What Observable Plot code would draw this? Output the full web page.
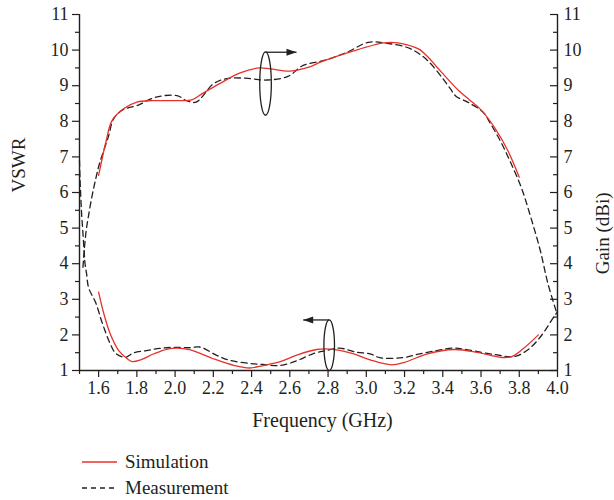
<!DOCTYPE html>
<html>
<head>
<meta charset="utf-8">
<script src="https://cdn.jsdelivr.net/npm/d3@7"></script>
<script src="https://cdn.jsdelivr.net/npm/@observablehq/plot@0.6"></script>
<style>
  html, body { margin: 0; padding: 0; background: #fff; }
  #wrap { position: relative; width: 614px; height: 500px; font-family: "Liberation Serif", "Times New Roman", Times, "DejaVu Serif", "Noto Serif", serif; color: #231f20; }
  .leg { position: absolute; left: 0; display: flex; align-items: center; font-size: 19px; }
  .leg svg { display: block; }
</style>
</head>
<body>
<div id="wrap"></div>
<script>
// ---- Data ----
const simGainFreq = [1.60,1.64,1.67,1.73,1.80,1.88,1.95,2.02,2.09,2.14,2.23,2.34,2.44,2.50,2.60,2.70,2.76,2.93,3.09,3.15,3.18,3.27,3.32,3.37,3.48,3.54,3.60,3.67,3.74,3.80];
const simGain     = [6.48,7.46,8.02,8.35,8.54,8.58,8.58,8.58,8.61,8.77,9.05,9.36,9.50,9.47,9.41,9.52,9.66,9.97,10.20,10.21,10.19,10.04,9.82,9.52,8.88,8.60,8.32,7.83,7.18,6.43];

const measGainFreq = [1.518,1.522,1.526,1.535,1.546,1.563,1.581,1.604,1.65,1.68,1.73,1.80,1.90,2.01,2.06,2.11,2.20,2.27,2.37,2.48,2.59,2.67,2.78,2.90,3.01,3.11,3.23,3.32,3.40,3.44,3.47,3.53,3.61,3.65,3.70,3.75,3.81,3.86,3.91,3.95,4.00];
const measGain     = [3.90,4.18,4.46,4.93,5.31,5.83,6.29,6.80,7.55,8.08,8.33,8.44,8.68,8.72,8.58,8.54,9.05,9.20,9.21,9.16,9.26,9.57,9.71,9.94,10.22,10.19,10.04,9.71,9.20,8.91,8.70,8.54,8.26,7.93,7.46,6.90,6.15,5.31,4.37,3.44,2.55];

const simVswrFreq = [1.60,1.627,1.66,1.705,1.75,1.776,1.82,1.89,1.96,2.01,2.08,2.20,2.31,2.39,2.46,2.55,2.64,2.74,2.81,2.92,3.02,3.13,3.20,3.32,3.46,3.58,3.70,3.76,3.82,3.90];
const simVswr     = [3.20,2.60,2.04,1.56,1.33,1.25,1.30,1.47,1.60,1.63,1.58,1.33,1.14,1.07,1.14,1.25,1.44,1.59,1.60,1.49,1.30,1.16,1.23,1.47,1.59,1.51,1.37,1.39,1.61,2.00];

const measVswrFreq = [1.500,1.503,1.506,1.511,1.517,1.524,1.529,1.537,1.548,1.585,1.62,1.66,1.69,1.74,1.78,1.85,1.92,1.99,2.08,2.13,2.22,2.29,2.39,2.46,2.55,2.64,2.72,2.79,2.86,2.95,3.02,3.07,3.19,3.28,3.37,3.46,3.53,3.67,3.77,3.84,3.91,3.98,4.00];
const measVswr     = [6.90,6.34,5.97,5.41,4.93,4.37,4.00,3.72,3.32,2.90,2.32,1.76,1.48,1.37,1.49,1.56,1.62,1.65,1.64,1.66,1.42,1.28,1.20,1.17,1.14,1.28,1.47,1.56,1.63,1.51,1.47,1.36,1.36,1.47,1.56,1.63,1.58,1.45,1.39,1.56,1.94,2.50,2.65];

// axis ticks
const xMajorTicks = [1.6,1.8,2.0,2.2,2.4,2.6,2.8,3.0,3.2,3.4,3.6,3.8,4.0];
const xMinorTicks = [1.5,1.7,1.9,2.1,2.3,2.5,2.7,2.9,3.1,3.3,3.5,3.7,3.9];
const yMajorTicks = [1,2,3,4,5,6,7,8,9,10,11];
const yMinorTicks = [1.5,2.5,3.5,4.5,5.5,6.5,7.5,8.5,9.5,10.5];

// annotations (ellipse marker + arrow showing which axis each curve pair uses)
const annotFreq   = [2.473, 2.806];
const annotCenter = [9.06, 1.71];
const annotTop    = [9.94, 2.42];
const annotTip    = [2.635, 2.67];

const seriesLabels = ["Simulation", "Measurement"];
const RED = "#e8302a", INK = "#231f20";
const FONT = '"Liberation Serif", "Times New Roman", Times, "DejaVu Serif", "Noto Serif", serif';

// ---- Build tables ----
const tbl = (fs, vs) => fs.map((f, i) => ({f, v: vs[i]}));
const simGainData = tbl(simGainFreq, simGain);
const measGainData = tbl(measGainFreq, measGain);
const simVswrData = tbl(simVswrFreq, simVswr);
const measVswrData = tbl(measVswrFreq, measVswr);
const annots = annotFreq.map((f, i) => ({f, c: annotCenter[i], t: annotTop[i], tip: annotTip[i]}));

function ellipseSymbol(rx, ry) {
  const k = 0.5523;
  return {draw(ctx) {
    ctx.moveTo(rx, 0);
    ctx.bezierCurveTo(rx, ry * k, rx * k, ry, 0, ry);
    ctx.bezierCurveTo(-rx * k, ry, -rx, ry * k, -rx, 0);
    ctx.bezierCurveTo(-rx, -ry * k, -rx * k, -ry, 0, -ry);
    ctx.bezierCurveTo(rx * k, -ry, rx, -ry * k, rx, 0);
    ctx.closePath();
  }};
}
function headSymbol(dir) {
  return {draw(ctx) {
    ctx.moveTo(0, 0);
    ctx.lineTo(-dir * 10, -3.5);
    ctx.lineTo(-dir * 10, 3.5);
    ctx.closePath();
  }};
}

const curve = "catmull-rom";
const plot = Plot.plot({
  width: 614,
  height: 440,
  marginLeft: 79,
  marginRight: 57,
  marginTop: 14,
  marginBottom: 70,
  style: {fontFamily: FONT, fontSize: "18px", color: INK, background: "#fff"},
  x: {domain: [1.5, 4.0]},
  y: {domain: [1, 11]},
  marks: [
    // axes
    Plot.axisX(xMajorTicks, {tickSize: 7, tickPadding: 4, tickFormat: d3.format(".1f"), label: null, strokeWidth: 1.2, fontFamily: FONT, fontSize: 18}),
    Plot.axisX(xMinorTicks, {tickSize: 4, text: null, label: null, strokeWidth: 1.2}),
    Plot.axisY(yMajorTicks, {anchor: "left", tickSize: 7, tickPadding: 4, label: null, strokeWidth: 1.2, fontFamily: FONT, fontSize: 18}),
    Plot.axisY(yMinorTicks, {anchor: "left", tickSize: 4, text: null, label: null, strokeWidth: 1.2}),
    Plot.axisY(yMajorTicks, {anchor: "right", tickSize: 0, tickPadding: 6, label: null, fontFamily: FONT, fontSize: 18}),
    Plot.ruleY(yMajorTicks, {x1: 4.0, x2: 4.0, insetLeft: -7, stroke: INK, strokeWidth: 1.2}),
    Plot.ruleY(yMinorTicks, {x1: 4.0, x2: 4.0, insetLeft: -4, stroke: INK, strokeWidth: 1.2}),
    Plot.ruleX([1.5, 4.0], {stroke: INK, strokeWidth: 1.4}),
    Plot.ruleY([1], {stroke: INK, strokeWidth: 1.4}),
    // axis titles
    Plot.text(["VSWR"], {frameAnchor: "left", rotate: -90, dx: -61, fontSize: 19, fill: INK, fontFamily: FONT}),
    Plot.text(["Gain (dBi)"], {frameAnchor: "right", rotate: -90, dx: 45, fontSize: 19, fill: INK, fontFamily: FONT}),
    Plot.text(["Frequency (GHz)"], {frameAnchor: "bottom", dy: 56, dx: 4, fontSize: 20, fill: INK, fontFamily: FONT}),
    // curves
    Plot.line(measGainData, {x: "f", y: "v", stroke: INK, strokeWidth: 1.3, strokeDasharray: "6,4", curve}),
    Plot.line(measVswrData, {x: "f", y: "v", stroke: INK, strokeWidth: 1.3, strokeDasharray: "6,4", curve}),
    Plot.line(simGainData, {x: "f", y: "v", stroke: RED, strokeWidth: 1.3, curve}),
    Plot.line(simVswrData, {x: "f", y: "v", stroke: RED, strokeWidth: 1.3, curve}),
    // annotations
    Plot.dot(annots.slice(0, 1), {x: "f", y: "c", symbol: ellipseSymbol(5.8, 31.7), fill: "none", stroke: INK, strokeWidth: 1.3}),
    Plot.dot(annots.slice(1), {x: "f", y: "c", symbol: ellipseSymbol(5.3, 25.3), fill: "none", stroke: INK, strokeWidth: 1.3}),
    Plot.link(annots, {x1: "f", y1: "t", x2: "tip", y2: "t", stroke: INK, strokeWidth: 1.3}),
    Plot.dot(annots.slice(0, 1), {x: "tip", y: "t", symbol: headSymbol(1), fill: INK, stroke: "none"}),
    Plot.dot(annots.slice(1), {x: "tip", y: "t", symbol: headSymbol(-1), fill: INK, stroke: "none"})
  ]
});
const wrap = document.getElementById("wrap");
wrap.appendChild(plot);

// legend (HTML, below the plot)
const legendStyles = [{stroke: RED, dash: null}, {stroke: INK, dash: "5,4"}];
seriesLabels.forEach((lab, i) => {
  const row = document.createElement("div");
  row.className = "leg";
  row.style.top = (450 + i * 26) + "px";
  row.style.left = "82px";
  const s = legendStyles[i];
  row.innerHTML = `<svg width="36" height="24"><line x1="0" x2="35" y1="12" y2="12" stroke="${s.stroke}" stroke-width="1.3" ${s.dash ? `stroke-dasharray="${s.dash}"` : ""}/></svg><span style="margin-left:7px">${lab}</span>`;
  wrap.appendChild(row);
});
</script>
</body>
</html>
